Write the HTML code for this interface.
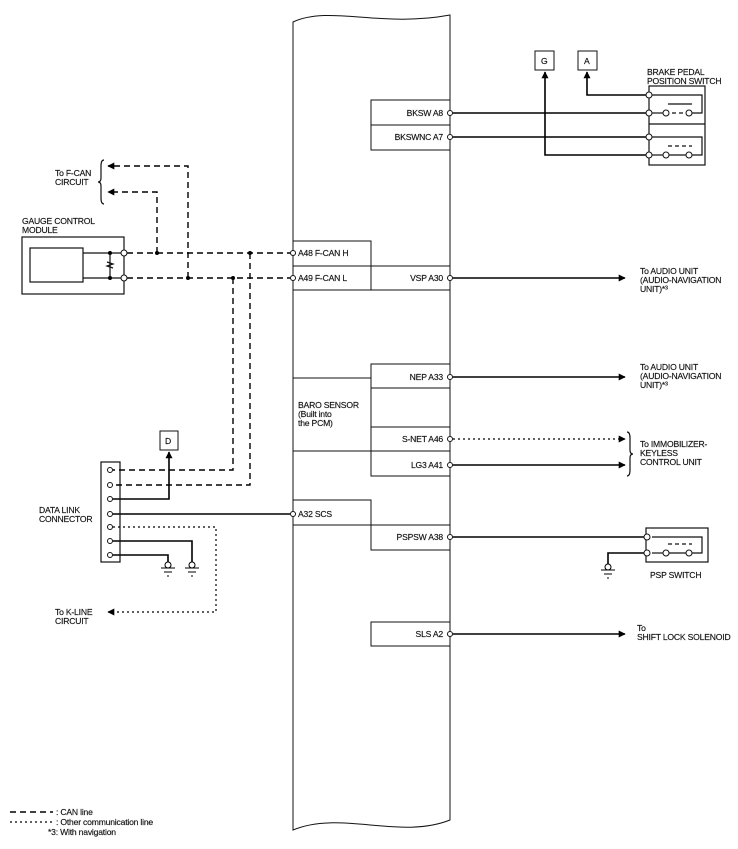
<!DOCTYPE html>
<html><head><meta charset="utf-8"><style>
html,body{margin:0;padding:0;background:#fff}
svg{display:block}
text{font-family:"Liberation Sans",Arial,sans-serif;font-size:8.6px;fill:#111;letter-spacing:-0.2px;stroke:#111;stroke-width:0.15px}
</style></head><body>
<svg width="738" height="849" viewBox="0 0 738 849" xmlns="http://www.w3.org/2000/svg">
<defs>
<marker id="ar" viewBox="0 0 10 10" refX="9" refY="5" markerWidth="7" markerHeight="7" orient="auto-start-reverse" markerUnits="userSpaceOnUse"><path d="M0,0 L10,5 L0,10 z" fill="#000"/></marker>
</defs>
<g fill="none" stroke="#111" stroke-width="1">
<path d="M293,22 C330,5 380,28 450,15 L450,820 C400,840 340,810 293,830 Z" fill="#fff"/>
<rect x="371" y="100" width="79" height="25"/><rect x="371" y="125" width="79" height="25"/>
<rect x="293" y="241" width="78" height="25"/><rect x="293" y="266" width="78" height="24"/>
<rect x="371" y="266" width="79" height="24"/>
<rect x="371" y="364" width="79" height="24"/><rect x="371" y="388" width="79" height="39"/>
<rect x="371" y="427" width="79" height="24"/><rect x="371" y="451" width="79" height="25"/>
<line x1="293" y1="378" x2="371" y2="378"/><line x1="293" y1="451" x2="371" y2="451"/>
<rect x="293" y="500" width="78" height="25"/><rect x="371" y="525" width="79" height="25"/>
<rect x="371" y="622" width="79" height="24"/>
</g>
<g fill="none" stroke="#000" stroke-width="1.6">
<line x1="453" y1="113" x2="646" y2="113"/><line x1="453" y1="137" x2="646" y2="137"/>
<polyline points="545,72 545,155 646,155" marker-start="url(#ar)"/>
<polyline points="587,72 587,95 646,95" marker-start="url(#ar)"/>
<line x1="453" y1="278" x2="625" y2="278" marker-end="url(#ar)"/>
<line x1="453" y1="377" x2="625" y2="377" marker-end="url(#ar)"/>
<line x1="453" y1="465" x2="625" y2="465" marker-end="url(#ar)"/>
<line x1="453" y1="634" x2="625" y2="634" marker-end="url(#ar)"/>
<line x1="453" y1="537" x2="646" y2="537"/>
<line x1="113" y1="514" x2="290" y2="514"/>
<polyline points="113,499 169,499 169,452" marker-end="url(#ar)"/>
<polyline points="113,541 192,541 192,562"/>
<polyline points="113,555 168,555 168,562"/>
<polyline points="646,553 608,553 608,565"/>
</g>
<g fill="none" stroke="#111" stroke-width="1.2">
<rect x="649" y="86" width="56" height="79"/><line x1="649" y1="124" x2="705" y2="124"/>
<polyline points="652,95 702,95 702,113 692,113"/>
<line x1="652" y1="113" x2="663" y2="113"/>
<line x1="668" y1="104" x2="692" y2="104"/>
<line x1="672" y1="113" x2="684" y2="113" stroke-dasharray="4,3"/>
<polyline points="652,137 702,137 702,155 692,155"/>
<line x1="652" y1="155" x2="663" y2="155"/>
<line x1="668" y1="146" x2="692" y2="146" stroke-dasharray="4,3"/>
<line x1="668" y1="155" x2="688" y2="155"/>
<rect x="646" y="528" width="62" height="34"/>
<polyline points="652,537 702,537 702,553 692,553"/>
<line x1="652" y1="553" x2="663" y2="553"/><line x1="668" y1="553" x2="688" y2="553"/>
<line x1="668" y1="544" x2="692" y2="544" stroke-dasharray="4,3"/>
<rect x="22" y="237" width="102" height="57"/><rect x="30" y="248" width="53" height="34"/>
<line x1="83" y1="253" x2="124" y2="253"/><line x1="83" y1="278" x2="124" y2="278"/>
<line x1="110" y1="253" x2="110" y2="278"/>
<polyline points="107,262 113,264 107,266 113,268"/>
<rect x="101" y="462" width="19" height="100"/>
<path d="M104,160 q-3,0 -3,6 v12 q0,4 -3,4 q3,0 3,4 v12 q0,6 3,6"/>
<path d="M627,432 q3,0 3,6 v12 q0,4 3,4 q-3,0 -3,4 v12 q0,6 -3,6"/>
</g>
<g stroke="#000" stroke-width="1" fill="#fff">
<circle cx="168" cy="565" r="3"/><line x1="161" y1="568" x2="175" y2="568"/><line x1="164" y1="572" x2="172" y2="572"/><line x1="167" y1="576" x2="169" y2="576"/>
<circle cx="192" cy="565" r="3"/><line x1="185" y1="568" x2="199" y2="568"/><line x1="188" y1="572" x2="196" y2="572"/><line x1="191" y1="576" x2="193" y2="576"/>
<circle cx="608" cy="567" r="3"/><line x1="601" y1="570" x2="615" y2="570"/><line x1="604" y1="574" x2="612" y2="574"/><line x1="607" y1="578" x2="609" y2="578"/>
</g>
<g fill="none" stroke="#000" stroke-width="1.4" stroke-dasharray="6,4">
<line x1="127" y1="253" x2="290" y2="253"/><line x1="127" y1="278" x2="290" y2="278"/>
<polyline points="157,253 157,192 108,192" marker-end="url(#ar)"/>
<polyline points="188,278 188,166 108,166" marker-end="url(#ar)"/>
<polyline points="233,278 233,470 113,470"/>
<polyline points="250,253 250,485 113,485"/>
<line x1="10" y1="812" x2="53" y2="812"/>
</g>
<g fill="none" stroke="#000" stroke-width="1.2" stroke-dasharray="2,3">
<line x1="453" y1="439" x2="625" y2="439" marker-end="url(#ar)"/>
<polyline points="113,527 216,527 216,612 108,612" marker-end="url(#ar)"/>
<line x1="10" y1="822" x2="53" y2="822"/>
</g>
<g fill="#000"><circle cx="110" cy="253" r="2"/><circle cx="110" cy="278" r="2"/><circle cx="157" cy="253" r="2"/><circle cx="188" cy="278" r="2"/><circle cx="233" cy="278" r="2"/><circle cx="250" cy="253" r="2"/></g>
<g fill="#fff" stroke="#111" stroke-width="1">
<circle cx="450" cy="113" r="2.5"/><circle cx="450" cy="137" r="2.5"/><circle cx="450" cy="278" r="2.5"/><circle cx="450" cy="377" r="2.5"/><circle cx="450" cy="439" r="2.5"/><circle cx="450" cy="465" r="2.5"/><circle cx="450" cy="537" r="2.5"/><circle cx="450" cy="634" r="2.5"/>
<circle cx="293" cy="253" r="2.5"/><circle cx="293" cy="278" r="2.5"/><circle cx="293" cy="514" r="2.5"/>
<circle cx="124" cy="253" r="3"/><circle cx="124" cy="278" r="3"/>
<circle cx="110" cy="470" r="2.5"/><circle cx="110" cy="485" r="2.5"/><circle cx="110" cy="499" r="2.5"/><circle cx="110" cy="514" r="2.5"/><circle cx="110" cy="527" r="2.5"/><circle cx="110" cy="541" r="2.5"/><circle cx="110" cy="555" r="2.5"/>
<circle cx="649" cy="95" r="3"/><circle cx="649" cy="113" r="3"/><circle cx="649" cy="137" r="3"/><circle cx="649" cy="155" r="3"/>
<circle cx="666" cy="113" r="3"/><circle cx="689" cy="113" r="3"/><circle cx="666" cy="155" r="3"/><circle cx="689" cy="155" r="3"/>
<circle cx="647" cy="537" r="3"/><circle cx="647" cy="553" r="3"/><circle cx="666" cy="553" r="3"/><circle cx="689" cy="553" r="3"/>
</g>
<g fill="#fff" stroke="#111"><rect x="535" y="51" width="19" height="19"/><rect x="578" y="51" width="19" height="19"/><rect x="160" y="431" width="18" height="19"/></g>
<text x="541" y="64">G</text><text x="584" y="64">A</text><text x="165" y="444">D</text>
<g text-anchor="end">
<text x="443" y="116">BKSW A8</text><text x="443" y="140">BKSWNC A7</text><text x="443" y="281">VSP A30</text><text x="443" y="380">NEP A33</text><text x="443" y="442">S-NET A46</text><text x="443" y="468">LG3 A41</text><text x="443" y="540">PSPSW A38</text><text x="443" y="637">SLS A2</text>
</g>
<text x="298" y="256">A48 F-CAN H</text><text x="298" y="281">A49 F-CAN L</text><text x="298" y="517">A32 SCS</text>
<text x="298" y="408">BARO SENSOR</text><text x="298" y="417">(Built into</text><text x="298" y="426">the PCM)</text>
<text x="647" y="75">BRAKE PEDAL</text><text x="647" y="84">POSITION SWITCH</text>
<text x="640" y="274">To AUDIO UNIT</text><text x="640" y="283">(AUDIO-NAVIGATION</text><text x="640" y="292">UNIT)*³</text>
<text x="640" y="370">To AUDIO UNIT</text><text x="640" y="379">(AUDIO-NAVIGATION</text><text x="640" y="388">UNIT)*³</text>
<text x="640" y="447">To IMMOBILIZER-</text><text x="640" y="456">KEYLESS</text><text x="640" y="465">CONTROL UNIT</text>
<text x="637" y="631">To</text><text x="637" y="640">SHIFT LOCK SOLENOID</text>
<text x="650" y="578">PSP SWITCH</text>
<text x="55" y="176">To F-CAN</text><text x="55" y="185">CIRCUIT</text>
<text x="22" y="224">GAUGE CONTROL</text><text x="22" y="233">MODULE</text>
<text x="39" y="513">DATA LINK</text><text x="39" y="522">CONNECTOR</text>
<text x="55" y="615">To K-LINE</text><text x="55" y="624">CIRCUIT</text>
<text x="56" y="815">: CAN line</text><text x="56" y="825">: Other communication line</text><text x="48" y="835">*3: With navigation</text>
</svg>
</body></html>
